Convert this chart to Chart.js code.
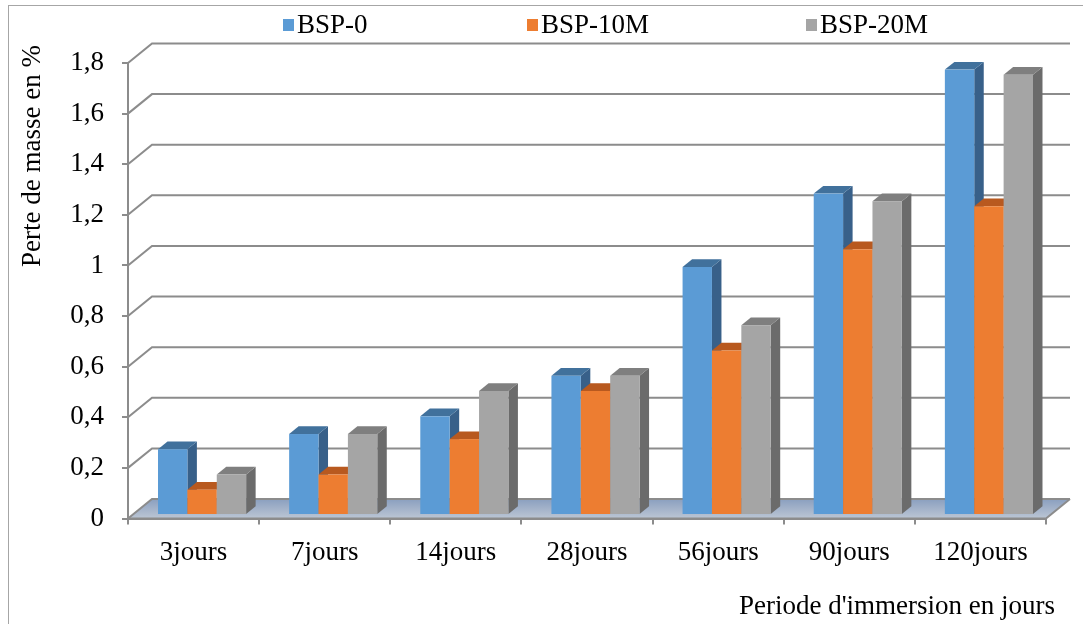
<!DOCTYPE html>
<html>
<head>
<meta charset="utf-8">
<script src="https://cdn.jsdelivr.net/npm/chart.js@4.4.1/dist/chart.umd.min.js"></script>
<style>
  html, body { margin: 0; padding: 0; background: #ffffff; }
  #wrap { width: 1083px; height: 624px; }
</style>
</head>
<body>
<div id="wrap"><canvas id="c" width="1083" height="624"></canvas></div>
<script>
// Mass loss (%) per immersion period
const categories = ['3jours', '7jours', '14jours', '28jours', '56jours', '90jours', '120jours'];
const bsp0   = [0.26, 0.32, 0.39, 0.55, 0.98, 1.27, 1.76];
const bsp10M = [0.10, 0.16, 0.30, 0.49, 0.65, 1.05, 1.22];
const bsp20M = [0.16, 0.32, 0.49, 0.55, 0.75, 1.24, 1.74];
const seriesNames = ['BSP-0', 'BSP-10M', 'BSP-20M'];
const yTickValues = [0, 0.2, 0.4, 0.6, 0.8, 1.0, 1.2, 1.4, 1.6, 1.8];
const yTitle = 'Perte de masse en %';
const xTitle = "Periode d'immersion en jours";

const FONT = '"Liberation Serif", "Times New Roman", serif';
const FONT_SIZE = 27;

// face colours: front, top, side
const palette = [
  { front: '#5b9bd5', top: '#41719c', side: '#386089' },
  { front: '#ed7d31', top: '#b8591f', side: '#a9521c' },
  { front: '#a5a5a5', top: '#7f7f7f', side: '#6b6b6b' }
];

// oblique projection of the depth axis
const WALL = { dx: 24, dy: -19.5 };     // front plane -> back wall
const BAR_SHIFT = { dx: 8.5, dy: -3.5 }; // front plane -> bar front face
const BAR_DEPTH = { dx: 9.5, dy: -7.7 }; // bar front face -> bar back face
const GRID = '#8c8c8c';

function fmt(v) {
  return String(+v.toFixed(1)).replace('.', ',');
}

const scene3d = {
  id: 'scene3d',
  beforeDraw(chart) {
    const ctx = chart.ctx;
    ctx.save();
    ctx.fillStyle = '#ffffff';
    ctx.fillRect(0, 0, chart.width, chart.height);
    ctx.strokeStyle = '#a6a6a6';
    ctx.lineWidth = 1;
    ctx.strokeRect(8.5, 5.5, chart.width + 50, chart.height + 50);
    ctx.restore();
  },
  beforeDatasetsDraw(chart) {
    const ctx = chart.ctx;
    const area = chart.chartArea;
    const ys = chart.scales.y;
    const y0 = ys.getPixelForValue(0);

    ctx.save();
    // floor
    const g = ctx.createLinearGradient(0, y0 + WALL.dy, 0, y0);
    g.addColorStop(0, '#8a9fbf');
    g.addColorStop(1, '#bcc6d4');
    ctx.beginPath();
    ctx.moveTo(area.left, y0);
    ctx.lineTo(area.right, y0);
    ctx.lineTo(area.right + WALL.dx, y0 + WALL.dy);
    ctx.lineTo(area.left + WALL.dx, y0 + WALL.dy);
    ctx.closePath();
    ctx.fillStyle = g;
    ctx.fill();

    // back-wall gridlines and side-wall slants
    ctx.strokeStyle = GRID;
    ctx.lineWidth = 2;
    ys.ticks.forEach(t => {
      const yf = ys.getPixelForValue(t.value);
      const yb = yf + WALL.dy;
      ctx.beginPath();
      ctx.moveTo(area.left, yf);
      ctx.lineTo(area.left + WALL.dx, yb);
      ctx.lineTo(area.right + WALL.dx, yb);
      ctx.stroke();
    });
    // floor front and right edges
    ctx.beginPath();
    ctx.moveTo(area.left, y0);
    ctx.lineTo(area.right, y0);
    ctx.lineTo(area.right + WALL.dx, y0 + WALL.dy);
    ctx.stroke();

    // bars, drawn back-to-front from left to right
    const metas = chart.data.datasets.map((d, i) => chart.getDatasetMeta(i));
    const n = chart.data.labels.length;
    for (let i = 0; i < n; i++) {
      metas.forEach((meta, di) => {
        const el = meta.data[i];
        const p = el.getProps(['x', 'y', 'base', 'width'], true);
        const c = palette[di];
        const x0 = p.x - p.width / 2 + BAR_SHIFT.dx;
        const x1 = p.x + p.width / 2 + BAR_SHIFT.dx;
        const yt = p.y + BAR_SHIFT.dy;
        const yb = p.base + BAR_SHIFT.dy;
        // side face
        ctx.fillStyle = c.side;
        ctx.beginPath();
        ctx.moveTo(x1, yt);
        ctx.lineTo(x1 + BAR_DEPTH.dx, yt + BAR_DEPTH.dy);
        ctx.lineTo(x1 + BAR_DEPTH.dx, yb + BAR_DEPTH.dy);
        ctx.lineTo(x1, yb);
        ctx.closePath();
        ctx.fill();
        // top face
        ctx.fillStyle = c.top;
        ctx.beginPath();
        ctx.moveTo(x0, yt);
        ctx.lineTo(x1, yt);
        ctx.lineTo(x1 + BAR_DEPTH.dx, yt + BAR_DEPTH.dy);
        ctx.lineTo(x0 + BAR_DEPTH.dx, yt + BAR_DEPTH.dy);
        ctx.closePath();
        ctx.fill();
        // front face
        ctx.fillStyle = c.front;
        ctx.fillRect(x0, yt, x1 - x0, yb - yt);
      });
    }
    ctx.restore();
    return false;
  },
  afterDraw(chart) {
    const ctx = chart.ctx;
    ctx.save();
    ctx.font = FONT_SIZE + 'px ' + FONT;
    ctx.fillStyle = '#000000';
    ctx.textBaseline = 'middle';

    // legend
    const legendX = [283, 527, 806];
    chart.data.datasets.forEach((ds, i) => {
      ctx.fillStyle = palette[i].front;
      ctx.fillRect(legendX[i], 19, 11, 12);
      ctx.fillStyle = '#000000';
      ctx.textAlign = 'left';
      ctx.fillText(ds.label, legendX[i] + 14, 26);
    });

    // axis titles
    ctx.textAlign = 'right';
    ctx.fillText(xTitle, 1055, 607);
    ctx.translate(33, 156);
    ctx.rotate(-Math.PI / 2);
    ctx.textAlign = 'center';
    ctx.fillText(yTitle, 0, 0);
    ctx.restore();
  }
};

const seriesValues = [bsp0, bsp10M, bsp20M];

new Chart(document.getElementById('c'), {
  type: 'bar',
  data: {
    labels: categories,
    datasets: seriesNames.map((name, i) => ({
      label: name,
      data: seriesValues[i],
      backgroundColor: palette[i].front,
      barPercentage: 1.0,
      categoryPercentage: 0.672
    }))
  },
  options: {
    responsive: false,
    animation: false,
    events: [],
    layout: { padding: { top: 63, right: 37, left: 0, bottom: 0 } },
    plugins: {
      legend: { display: false },
      tooltip: { enabled: false }
    },
    scales: {
      x: {
        afterFit(scale) { scale.height = 105.5; },
        grid: { drawOnChartArea: false, offset: true, tickLength: 6, color: GRID, lineWidth: 2 },
        border: { color: GRID, width: 2 },
        ticks: { color: '#000000', padding: 12, font: { family: FONT, size: FONT_SIZE } }
      },
      y: {
        min: 0,
        max: 1.8,
        afterFit(scale) { scale.width = 128; },
        afterBuildTicks(scale) { scale.ticks = yTickValues.map(v => ({ value: v })); },
        grid: { drawOnChartArea: false, tickLength: 6, color: GRID, lineWidth: 2 },
        border: { color: GRID, width: 2 },
        ticks: { color: '#000000', padding: 18, font: { family: FONT, size: FONT_SIZE },
                 callback: v => fmt(v) }
      }
    }
  },
  plugins: [scene3d]
});
</script>
</body>
</html>
